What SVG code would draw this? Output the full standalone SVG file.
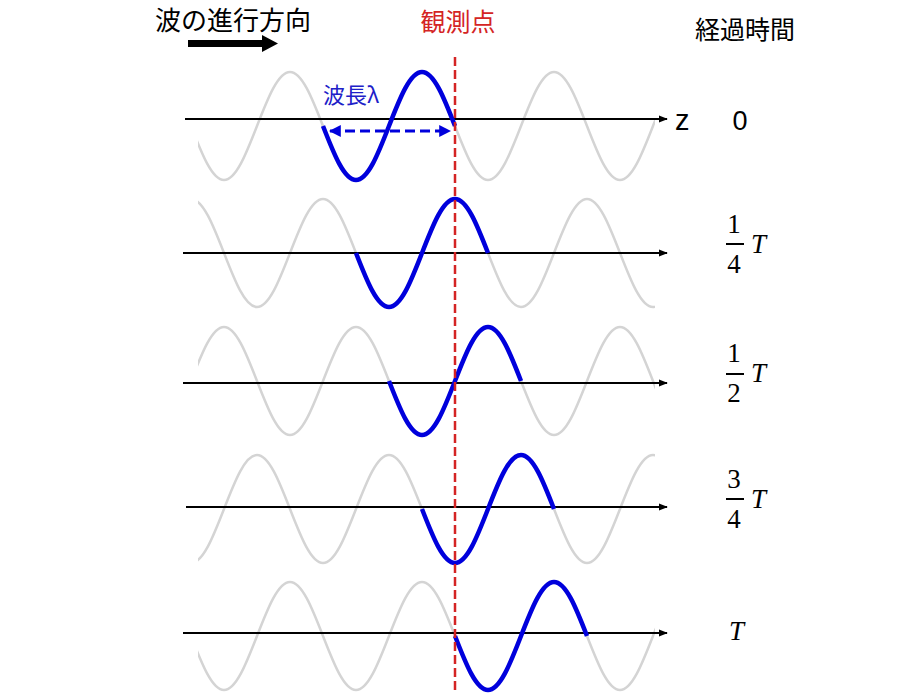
<svg xmlns="http://www.w3.org/2000/svg" xmlns:xlink="http://www.w3.org/1999/xlink" width="900" height="700" viewBox="0 0 900 700">
<style>
.grey{fill:none;stroke:#d4d4d4;stroke-width:2.5}
.blue{fill:none;stroke:#0000dc;stroke-width:4.5;stroke-linecap:butt}
.axis{fill:none;stroke:#000;stroke-width:2}
.jp{font-family:"Noto Sans CJK JP","Noto Sans",sans-serif}
.math{font-family:"Liberation Serif","DejaVu Serif",serif;font-size:27px;fill:#000}
.bar{stroke:#000;stroke-width:2}
</style>
<defs>
<path id="period" d="M0 0 c10.76 27.66 21.06 54 33 54 s22.24 -26.34 33 -54 s21.06 -54 33 -54 s22.24 26.34 33 54"/>
<path id="longwave" d="M0 0 c10.76 27.66 21.06 54 33 54 s22.24 -26.34 33 -54 s21.06 -54 33 -54 s22.24 26.34 33 54 s21.06 54 33 54 s22.24 -26.34 33 -54 s21.06 -54 33 -54 s22.24 26.34 33 54 s21.06 54 33 54 s22.24 -26.34 33 -54 s21.06 -54 33 -54 s22.24 26.34 33 54 s21.06 54 33 54 s22.24 -26.34 33 -54 s21.06 -54 33 -54 s22.24 26.34 33 54 s21.06 54 33 54 s22.24 -26.34 33 -54 s21.06 -54 33 -54 s22.24 26.34 33 54 s21.06 54 33 54 s22.24 -26.34 33 -54 s21.06 -54 33 -54 s22.24 26.34 33 54 s21.06 54 33 54 s22.24 -26.34 33 -54 s21.06 -54 33 -54 s22.24 26.34 33 54"/>
<clipPath id="greyclip"><rect x="198" y="0" width="457" height="700"/></clipPath>
<marker id="axhead" viewBox="0 0 10 10" refX="9" refY="5" markerWidth="4.5" markerHeight="4.5" orient="auto" markerUnits="strokeWidth"><path d="M0 1 L10 5 L0 9 z" fill="#000"/></marker>
<marker id="bluehead" viewBox="0 0 10 10" refX="9" refY="5" markerWidth="4" markerHeight="4" orient="auto-start-reverse" markerUnits="strokeWidth"><path d="M0 0 L10 5 L0 10 z" fill="#0000dc"/></marker>
</defs>

<g id="grey-waves" clip-path="url(#greyclip)">
<use xlink:href="#longwave" class="grey" transform="translate(-73,126)"/>
<use xlink:href="#longwave" class="grey" transform="translate(-40,253)"/>
<use xlink:href="#longwave" class="grey" transform="translate(-7,381)"/>
<use xlink:href="#longwave" class="grey" transform="translate(26,509)"/>
<use xlink:href="#longwave" class="grey" transform="translate(59,636)"/>
</g>

<g id="connectors">
<line id="axis0" class="axis" x1="185" y1="119" x2="667" y2="119" marker-end="url(#axhead)"/>
<line id="axis1" class="axis" x1="183" y1="253" x2="667" y2="253" marker-end="url(#axhead)"/>
<line id="axis2" class="axis" x1="183" y1="383" x2="667" y2="383" marker-end="url(#axhead)"/>
<line id="axis3" class="axis" x1="186" y1="507" x2="667" y2="507" marker-end="url(#axhead)"/>
<line id="axis4" class="axis" x1="183" y1="633" x2="667" y2="633" marker-end="url(#axhead)"/>
<line id="wavelength-arrow" x1="330" y1="131" x2="450" y2="131" stroke="#0000dc" stroke-width="3" stroke-dasharray="10 5" marker-start="url(#bluehead)" marker-end="url(#bluehead)"/>
<path id="direction-arrow" d="M188 40 H262 V35 L278 43.5 L262 52 V47 H188 z" fill="#000"/>
</g>

<g id="blue-waves">
<use xlink:href="#period" class="blue" transform="translate(323,126)"/>
<use xlink:href="#period" class="blue" transform="translate(356,253)"/>
<use xlink:href="#period" class="blue" transform="translate(389,381)"/>
<use xlink:href="#period" class="blue" transform="translate(422,509)"/>
<use xlink:href="#period" class="blue" transform="translate(455,636)"/>
</g>

<g id="observation-line">
<line x1="455" y1="57" x2="455" y2="692" stroke="#d42424" stroke-width="2.5" stroke-dasharray="9 4"/>
</g>

<g id="labels">
<text class="jp" x="155" y="30" font-size="26" fill="#000">波の進行方向</text>
<text class="jp" x="458" y="31" font-size="25" fill="#d42424" text-anchor="middle">観測点</text>
<text class="jp" x="745" y="39" font-size="25" fill="#000" text-anchor="middle">経過時間</text>
<text class="jp" x="323" y="103" font-size="22" fill="#2020c8">波長λ</text>
<text x="675" y="130" font-family="Liberation Sans, Arial, sans-serif" font-size="29" fill="#000">z</text>
<text x="740" y="130" font-family="Liberation Sans, Arial, sans-serif" font-size="27" fill="#000" text-anchor="middle">0</text>
</g>

<g id="time-labels">
<g id="t1">
<text class="math" x="734" y="233" text-anchor="middle">1</text>
<line class="bar" x1="726" y1="244" x2="744" y2="244"/>
<text class="math" x="734" y="273" text-anchor="middle">4</text>
<text class="math" x="751" y="253" font-style="italic">T</text>
</g>
<g id="t2">
<text class="math" x="734" y="362" text-anchor="middle">1</text>
<line class="bar" x1="726" y1="374" x2="744" y2="374"/>
<text class="math" x="734" y="402" text-anchor="middle">2</text>
<text class="math" x="751" y="382" font-style="italic">T</text>
</g>
<g id="t3">
<text class="math" x="734" y="488" text-anchor="middle">3</text>
<line class="bar" x1="726" y1="499" x2="744" y2="499"/>
<text class="math" x="734" y="528" text-anchor="middle">4</text>
<text class="math" x="751" y="508" font-style="italic">T</text>
</g>
<g id="t4">
<text class="math" x="729" y="640" font-style="italic" font-size="31">T</text>
</g>
</g>
</svg>
